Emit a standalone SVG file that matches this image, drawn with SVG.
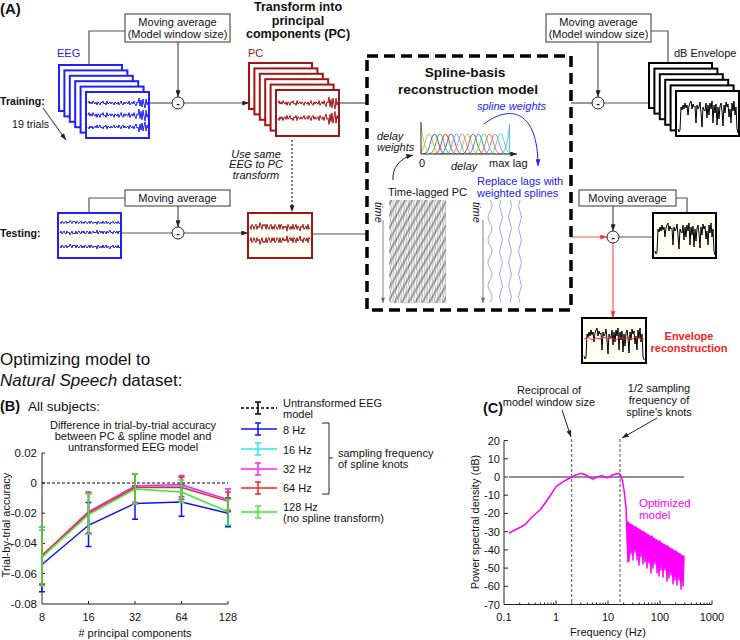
<svg xmlns="http://www.w3.org/2000/svg" xmlns:xlink="http://www.w3.org/1999/xlink" width="740" height="640" viewBox="0 0 740 640">
<style>
.t{font-family:"Liberation Sans",Arial,sans-serif;font-size:11px;fill:#111}
.b{font-weight:bold}
.i{font-style:italic}
.c{text-anchor:middle}
.e{text-anchor:end}
.conn{fill:none;stroke:#555;stroke-width:1.2}
.mab{fill:#fff;stroke:#555;stroke-width:1.2}
.fe{fill:#fff;stroke:#1f1fff;stroke-width:2}
.fp{fill:#fff;stroke:#a31515;stroke-width:2}
.fk{fill:#fff;stroke:#000;stroke-width:2}
.cr{fill:#fffff4}
.mc{fill:#fff;stroke:#222;stroke-width:1}
.ax{fill:none;stroke:#222;stroke-width:1}
.nz{fill:none;vector-effect:non-scaling-stroke}
</style>
<defs>
<marker id="ak" viewBox="0 0 8 6" refX="8" refY="3" markerWidth="7" markerHeight="5" markerUnits="userSpaceOnUse" orient="auto"><path d="M0,0 L8,3 L0,6 z" fill="#222"/></marker>
<marker id="ar" viewBox="0 0 8 6" refX="8" refY="3" markerWidth="7" markerHeight="5" markerUnits="userSpaceOnUse" orient="auto"><path d="M0,0 L8,3 L0,6 z" fill="#ff3030"/></marker>
<marker id="ab" viewBox="0 0 8 6" refX="8" refY="3" markerWidth="7" markerHeight="5" markerUnits="userSpaceOnUse" orient="auto"><path d="M0,0 L8,3 L0,6 z" fill="#2020ff"/></marker>
<marker id="ag" viewBox="0 0 8 6" refX="8" refY="3" markerWidth="6" markerHeight="4" markerUnits="userSpaceOnUse" orient="auto"><path d="M0,0 L8,3 L0,6 z" fill="#666"/></marker>
<path id="n1" class="nz" d="M0,0 l1,-2 1,3 1,-2 1,2 1,-3 1,2 1,1 1,-2 1,3 1,-3 1,1 1,2 1,-3 1,1 1,-2 1,3 1,-1 1,2 1,-4 1,3 1,-1 1,-1 1,2 1,-2 1,1 1,2 1,-3 1,1 1,1 1,-2 1,3 1,-2 1,-2 1,3 1,1 1,-3 1,2 1,-2 1,1 1,1 1,-3 1,4 1,-2 1,-1 1,2 1,-3 1,3 1,2 1,-4 1,1 1,-5 1,8 1,-6 1,7 1,-8 1,5 1,4 1,-9 1,6 1,-3"/>
<path id="n2" class="nz" d="M0,0 l1,2 1,-3 1,1 1,2 1,-2 1,-1 1,3 1,-2 1,1 1,-3 1,2 1,2 1,-3 1,1 1,-1 1,3 1,-3 1,2 1,1 1,-2 1,-1 1,3 1,-2 1,2 1,-3 1,1 1,2 1,-1 1,-2 1,3 1,-3 1,1 1,2 1,-2 1,1 1,-1 1,3 1,-4 1,2 1,1 1,-2 1,2 1,-3 1,3 1,-1 1,-2 1,3 1,-2 1,1 1,2 1,-3 1,1 1,-2 1,3 1,-1 1,-1 1,2 1,-3 1,3 1,-1"/>
<polyline id="env" class="nz" points="0,36 1,39 2,37 3,14 4,17 5,12 6,16 7,10 8,15 9,12 10,22 11,13 12,10 13,8 14,16 15,11 16,14 17,13 18,30 19,12 20,16 21,14 22,9 23,20 24,34 25,14 26,17 27,18 28,10 29,25 30,12 31,22 32,10 33,16 34,8 35,30 36,12 37,20 38,11 39,32 40,14 41,26 42,13 43,10 44,18 45,33 46,12 47,20 48,9 49,14 50,11 51,24 52,16 53,30 54,10 55,18 56,8 57,22 58,14 59,36 60,40"/>
<pattern id="pv" patternUnits="userSpaceOnUse" width="2.6" height="8"><path d="M1.3,0 L0.4,4 L1.3,8" fill="none" stroke="#666" stroke-width="0.6"/></pattern>
<pattern id="pd" patternUnits="userSpaceOnUse" width="6" height="20" patternTransform="rotate(30)"><path d="M1,0 V20" stroke="#333" stroke-width="0.8"/></pattern>
<clipPath id="spc"><rect x="421" y="118" width="91" height="36"/></clipPath>
</defs>
<rect width="740" height="640" fill="#fff"/>

<g id="labels-A">
<text class="t b" x="0" y="14" style="font-size:15px">(A)</text>
<text class="t b c" x="298" y="11" style="font-size:12.6px">Transform into</text>
<text class="t b c" x="298" y="24.5" style="font-size:12.6px">principal</text>
<text class="t b c" x="298" y="38" style="font-size:12.6px">components (PC)</text>
<text class="t b" x="0" y="105" style="font-size:10.6px">Training:</text>
<text class="t" x="12" y="128" style="font-size:10.6px">19 trials</text>
<text class="t b" x="0" y="237" style="font-size:10.6px">Testing:</text>
<text class="t i c" x="256" y="157.5">Use same</text>
<text class="t i c" x="256" y="168">EEG to PC</text>
<text class="t i c" x="256" y="178.5">transform</text>
</g>

<g id="connectors">
<path class="conn" d="M43,108 L66,140" marker-end="url(#ak)"/>
<path class="conn" d="M125,31 H89 V65"/>
<path class="conn" d="M178,42 V97" marker-end="url(#ak)"/>
<path class="conn" d="M149,103 H172"/>
<path class="conn" d="M184,103 H249" marker-end="url(#ak)"/>
<path class="conn" d="M339,103 H367"/>
<path class="conn" d="M571,103 H592"/>
<path class="conn" d="M651,31 H668 V63"/>
<path class="conn" d="M598,42 V97" marker-end="url(#ak)"/>
<path class="conn" d="M604,103 H649"/>
<path fill="none" stroke="#222" stroke-width="1.2" stroke-dasharray="2 2" d="M292,140 V212" marker-end="url(#ak)"/>
<path class="conn" d="M125,198 H89 V213"/>
<path class="conn" d="M178,206 V227" marker-end="url(#ak)"/>
<path class="conn" d="M121,233 H172"/>
<path class="conn" d="M184,233 H248" marker-end="url(#ak)"/>
<path class="conn" d="M312,234 H367"/>
<path class="conn" d="M676,198 H687 V213"/>
<path class="conn" d="M613,206 V231" marker-end="url(#ak)"/>
<path class="conn" d="M619,237 H653"/>
<path fill="none" stroke="#ff5555" stroke-width="1.2" d="M571,237 H607" marker-end="url(#ar)"/>
<path fill="none" stroke="#ff5555" stroke-width="1.2" d="M613,243 V318" marker-end="url(#ar)"/>
</g>

<g id="ma-train-eeg">
<rect class="mab" x="125" y="14" width="105" height="28"/>
<text class="t c" x="177.5" y="26">Moving average</text>
<text class="t c" x="177.5" y="38">(Model window size)</text>
</g>
<g id="ma-train-env">
<rect class="mab" x="546" y="14" width="105" height="28"/>
<text class="t c" x="598.5" y="26">Moving average</text>
<text class="t c" x="598.5" y="38">(Model window size)</text>
</g>
<g id="ma-test-eeg">
<rect class="mab" x="125" y="190" width="105" height="16"/>
<text class="t c" x="177.5" y="202">Moving average</text>
</g>
<g id="ma-test-env">
<rect class="mab" x="579" y="190" width="97" height="16"/>
<text class="t c" x="627.5" y="202">Moving average</text>
</g>

<g id="minus-nodes">
<circle class="mc" cx="178" cy="103" r="6"/><text class="t b c" x="178" y="106.5">-</text>
<circle class="mc" cx="598" cy="103" r="6"/><text class="t b c" x="598" y="106.5">-</text>
<circle class="mc" cx="178" cy="233" r="6"/><text class="t b c" x="178" y="236.5">-</text>
<circle class="mc" cx="613" cy="237" r="6"/><text class="t b c" x="613" y="240.5">-</text>
</g>

<g id="eeg-stack">
<text class="t" x="57" y="57" style="fill:#2020ff">EEG</text>
<rect class="fe" x="59" y="65" width="63" height="46"/>
<rect class="fe" x="64.4" y="70.4" width="63" height="46"/>
<rect class="fe" x="69.8" y="75.8" width="63" height="46"/>
<rect class="fe" x="75.2" y="81.2" width="63" height="46"/>
<rect class="fe" x="80.6" y="86.6" width="63" height="46"/>
<rect class="fe" x="86" y="92" width="63" height="46"/>
<g stroke="#1f1fff" stroke-width="1">
<use xlink:href="#n1" transform="translate(88,103)"/>
<use xlink:href="#n1" transform="translate(88,115) scale(1,1.2)"/>
<use xlink:href="#n1" transform="translate(88,127) scale(1,-1)"/>
</g>
</g>

<g id="pc-stack">
<text class="t" x="248" y="57" style="fill:#a31515">PC</text>
<rect class="fp" x="249" y="63" width="63" height="46"/>
<rect class="fp" x="254.4" y="68.4" width="63" height="46"/>
<rect class="fp" x="259.8" y="73.8" width="63" height="46"/>
<rect class="fp" x="265.2" y="79.2" width="63" height="46"/>
<rect class="fp" x="270.6" y="84.6" width="63" height="46"/>
<rect class="fp" x="276" y="90" width="63" height="46"/>
<g stroke="#a31515" stroke-width="1">
<use xlink:href="#n1" transform="translate(278,103) scale(1,1.2)"/>
<use xlink:href="#n1" transform="translate(278,118) scale(1,-1.3)"/>
</g>
</g>

<g id="env-stack">
<text class="t" x="674" y="57">dB Envelope</text>
<rect class="fk" x="649" y="63" width="63" height="45"/>
<rect class="fk" x="654.4" y="68.6" width="63" height="45"/>
<rect class="fk" x="659.8" y="74.2" width="63" height="45"/>
<rect class="fk" x="665.2" y="79.8" width="63" height="45"/>
<rect class="fk" x="670.6" y="85.4" width="63" height="45"/>
<rect class="fk" x="676" y="91" width="63" height="45"/>
<use xlink:href="#env" transform="translate(678,93)" stroke="#000" stroke-width="1"/>
</g>

<g id="test-eeg">
<rect class="fe cr" x="58" y="213" width="63" height="45"/>
<g stroke="#1f1fff" stroke-width="1">
<use xlink:href="#n2" transform="translate(60,222) scale(1,0.8)"/>
<use xlink:href="#n2" transform="translate(60,233) scale(1,-1)"/>
<use xlink:href="#n2" transform="translate(60,246)"/>
</g>
</g>

<g id="test-pc">
<rect class="fp cr" x="248" y="213" width="64" height="45"/>
<g stroke="#a31515" stroke-width="1">
<use xlink:href="#n2" transform="translate(250,226) scale(1,1.7)"/>
<use xlink:href="#n2" transform="translate(250,241) scale(1,-1.7)"/>
</g>
</g>

<g id="test-env">
<rect class="fk cr" x="653" y="213" width="63" height="45"/>
<use xlink:href="#env" transform="translate(655,215)" stroke="#000" stroke-width="1"/>
</g>

<g id="reconstruction">
<rect class="fk cr" x="582" y="318" width="64" height="45"/>
<use xlink:href="#env" transform="translate(584,320)" stroke="#000" stroke-width="1"/>
<path d="M584,339 l4,-2 4,3 4,-2 4,1 4,-2 4,2 4,-1 4,2 4,-3 4,2 4,-1 4,1 4,-2 4,2 4,0" fill="none" stroke="#ff2020" stroke-width="1"/>
<text class="t b c" x="689" y="340" style="fill:#ff2020">Envelope</text>
<text class="t b c" x="689" y="352" style="fill:#ff2020">reconstruction</text>
</g>

<g id="spline-model">
<rect x="367" y="56" width="204" height="254" fill="none" stroke="#000" stroke-width="3.5" stroke-dasharray="11 6"/>
<text class="t b c" x="465" y="77" style="font-size:13.7px">Spline-basis</text>
<text class="t b c" x="468" y="94" style="font-size:13.7px">reconstruction model</text>
<text class="t i" x="477" y="110" style="fill:#2020ff">spline weights</text>
<path d="M484,124 C510,104 538,110 538,166" fill="none" stroke="#2020ff" stroke-width="1" marker-end="url(#ab)"/>
<text class="t i" x="377" y="140">delay</text>
<text class="t i" x="377" y="151">weights</text>
<path d="M393,180 C392,168 400,158 413,155" fill="none" stroke="#222" stroke-width="1" marker-end="url(#ak)"/>
<g clip-path="url(#spc)" fill="none" stroke-width="0.9">
<path stroke="#f0a030" d="M418,154 c7,0 7,-20 11,-20 s4,20 11,20"/>
<path stroke="#3050f0" d="M423.5,154 c7,0 7,-20 11,-20 s4,20 11,20"/>
<path stroke="#30b030" d="M429,154 c7,0 7,-20 11,-20 s4,20 11,20"/>
<path stroke="#e03030" d="M434.5,154 c7,0 7,-20 11,-20 s4,20 11,20"/>
<path stroke="#9040c0" d="M440,154 c7,0 7,-20 11,-20 s4,20 11,20"/>
<path stroke="#30c0d0" d="M445.5,154 c7,0 7,-20 11,-20 s4,20 11,20"/>
<path stroke="#ff70b0" d="M451,154 c7,0 7,-20 11,-20 s4,20 11,20"/>
<path stroke="#c0c030" d="M456.5,154 c7,0 7,-20 11,-20 s4,20 11,20"/>
<path stroke="#8b5a2b" d="M462,154 c7,0 7,-20 11,-20 s4,20 11,20"/>
<path stroke="#2080ff" d="M467.5,154 c7,0 7,-20 11,-20 s4,20 11,20"/>
<path stroke="#60d060" d="M473,154 c7,0 7,-20 11,-20 s4,20 11,20"/>
<path stroke="#ff6040" d="M478.5,154 c7,0 7,-20 11,-20 s4,20 11,20"/>
<path stroke="#b070e0" d="M484,154 c7,0 7,-20 11,-20 s4,20 11,20"/>
<path stroke="#40d0c0" d="M489.5,154 c7,0 7,-20 11,-20 s4,20 11,20"/>
<path stroke="#b0d040" d="M421,124 C423,140 425,152 431,154"/>
<path stroke="#40c0e0" d="M501,154 C506,152 508,140 509.5,124 V154"/>
</g>
<path class="ax" d="M421,122 V154 H517" marker-end="url(#ak)"/>
<text class="t" x="419" y="167">0</text>
<text class="t i" x="451" y="170">delay</text>
<text class="t" x="489" y="167">max lag</text>
<text class="t" x="477" y="185" style="fill:#2020ff">Replace lags with</text>
<text class="t" x="477" y="197" style="fill:#2020ff">weighted splines</text>
<text class="t" x="388" y="196">Time-lagged PC</text>
<text class="t i" transform="translate(375,202) rotate(90)">time</text>
<path d="M383,220 V303" fill="none" stroke="#666" stroke-width="0.8" marker-end="url(#ag)"/>
<rect x="389" y="200" width="57" height="103" fill="url(#pv)"/>
<rect x="389" y="200" width="57" height="103" fill="url(#pd)"/>
<text class="t i" transform="translate(473,202) rotate(90)">time</text>
<path d="M483,220 V303" fill="none" stroke="#666" stroke-width="0.8" marker-end="url(#ag)"/>
<g fill="none" stroke="#8a8aff" stroke-width="0.8">
<path d="M490,200 q4,5.7 0,11.4 t0,11.4 t0,11.4 t0,11.4 t0,11.4 t0,11.4 t0,11.4 t0,11.4 t0,11.4"/>
<path d="M501,200 q-3,5.7 0,11.4 t0,11.4 t0,11.4 t0,11.4 t0,11.4 t0,11.4 t0,11.4 t0,11.4 t0,11.4"/>
<path d="M510,200 q3,5.7 0,11.4 t0,11.4 t0,11.4 t0,11.4 t0,11.4 t0,11.4 t0,11.4 t0,11.4 t0,11.4"/>
<path d="M520,200 q-3,5.7 0,11.4 t0,11.4 t0,11.4 t0,11.4 t0,11.4 t0,11.4 t0,11.4 t0,11.4 t0,11.4"/>
</g>
</g>

<g id="panel-B">
<text class="t" x="0" y="365" style="font-size:17px">Optimizing model to</text>
<text class="t" x="0" y="386" style="font-size:17px"><tspan font-style="italic">Natural Speech</tspan> dataset:</text>
<text class="t b" x="0" y="411" style="font-size:14.5px">(B)</text>
<text class="t" x="28" y="411" style="font-size:13.5px">All subjects:</text>
<text class="t c" x="133" y="429">Difference in trial-by-trial accuracy</text>
<text class="t c" x="133" y="440">between PC &amp; spline model and</text>
<text class="t c" x="133" y="451">untransformed EEG model</text>
<path class="ax" d="M42,453 V604 H228 M42,453 h3 M42,483 h3 M42,513.2 h3 M42,543.4 h3 M42,573.6 h3 M88.5,604 v-3 M135,604 v-3 M181.5,604 v-3 M228,604 v-3"/>
<g class="t e" style="font-size:11.5px">
<text x="37" y="457">0.02</text>
<text x="37" y="487">0</text>
<text x="37" y="517">-0.02</text>
<text x="37" y="547">-0.04</text>
<text x="37" y="578">-0.06</text>
<text x="37" y="608">-0.08</text>
</g>
<g class="t c">
<text x="42" y="621">8</text>
<text x="88.5" y="621">16</text>
<text x="135" y="621">32</text>
<text x="181.5" y="621">64</text>
<text x="228" y="621">128</text>
<text x="135" y="637"># principal components</text>
<text transform="translate(10,525) rotate(-90)">Trial-by-trial accuracy</text>
</g>
<path d="M42,483 H228" fill="none" stroke="#000" stroke-width="1" stroke-dasharray="3 2"/>
<g fill="none" stroke-width="1.5">
<g stroke="#1010ff">
<polyline points="42,564.5 88.5,525.3 135,503.4 181.5,501.9 228,513.2"/>
<path d="M42,529.8V591.7 M39,529.8h6 M39,591.7h6 M88.5,502.6V546.4 M85.5,502.6h6 M85.5,546.4h6 M135,486V519.2 M132,486h6 M132,519.2h6 M181.5,484.5V516.2 M178.5,484.5h6 M178.5,516.2h6 M228,498.1V526.8 M225,498.1h6 M225,526.8h6"/>
</g>
<g stroke="#22eeee">
<polyline points="42,557 88.5,513.2 135,487.5 181.5,486 228,499.6"/>
<path d="M42,529.8V584.2 M39,529.8h6 M39,584.2h6 M88.5,492.1V534.3 M85.5,492.1h6 M85.5,534.3h6 M135,473.9V502.6 M132,473.9h6 M132,502.6h6 M181.5,477V498.1 M178.5,477h6 M178.5,498.1h6 M228,489V510.2 M225,489h6 M225,510.2h6"/>
</g>
<g stroke="#ff22ff">
<polyline points="42,555.5 88.5,511.7 135,486 181.5,484.5 228,499.6"/>
<path d="M42,526.8V584.2 M39,526.8h6 M39,584.2h6 M88.5,492.1V532.8 M85.5,492.1h6 M85.5,532.8h6 M135,473.9V502.6 M132,473.9h6 M132,502.6h6 M181.5,475.5V496.6 M178.5,475.5h6 M178.5,496.6h6 M228,489V510.2 M225,489h6 M225,510.2h6"/>
</g>
<g stroke="#ff2222">
<polyline points="42,555.5 88.5,513.2 135,487.5 181.5,487.5 228,501.1"/>
<path d="M42,526.8V584.2 M39,526.8h6 M39,584.2h6 M88.5,493.6V534.3 M85.5,493.6h6 M85.5,534.3h6 M135,473.9V504.1 M132,473.9h6 M132,504.1h6 M181.5,477V499.6 M178.5,477h6 M178.5,499.6h6 M228,492.1V511.7 M225,492.1h6 M225,511.7h6"/>
</g>
<g stroke="#33ee33">
<polyline points="42,557 88.5,514.7 135,489 181.5,492.1 228,511.7"/>
<path d="M42,526.8V585.7 M39,526.8h6 M39,585.7h6 M88.5,493.6V534.3 M85.5,493.6h6 M85.5,534.3h6 M135,473.9V504.1 M132,473.9h6 M132,504.1h6 M181.5,480V502.6 M178.5,480h6 M178.5,502.6h6 M228,499.6V525.3 M225,499.6h6 M225,525.3h6"/>
</g>
</g>
</g>

<g id="legend-B">
<path d="M241,408 H277" fill="none" stroke="#000" stroke-width="1.5" stroke-dasharray="3 2"/>
<path d="M258,402 V414 M255,402 h6 M255,414 h6" fill="none" stroke="#000" stroke-width="1.5"/>
<path d="M241,429 H277 M258,423 V435 M255,423 h6 M255,435 h6" fill="none" stroke="#1010ff" stroke-width="1.5"/>
<path d="M241,449 H277 M258,443 V455 M255,443 h6 M255,455 h6" fill="none" stroke="#22eeee" stroke-width="1.5"/>
<path d="M241,469 H277 M258,463 V475 M255,463 h6 M255,475 h6" fill="none" stroke="#ff22ff" stroke-width="1.5"/>
<path d="M241,488 H277 M258,482 V494 M255,482 h6 M255,494 h6" fill="none" stroke="#ff2222" stroke-width="1.5"/>
<path d="M241,512 H277 M258,506 V518 M255,506 h6 M255,518 h6" fill="none" stroke="#33ee33" stroke-width="1.5"/>
<g class="t">
<text x="283" y="407">Untransformed EEG</text>
<text x="283" y="418">model</text>
<text x="283" y="434">8 Hz</text>
<text x="283" y="454">16 Hz</text>
<text x="283" y="473">32 Hz</text>
<text x="283" y="492">64 Hz</text>
<text x="283" y="511">128 Hz</text>
<text x="283" y="522">(no spline transform)</text>
<text x="338" y="457">sampling frequency</text>
<text x="338" y="468">of spline knots</text>
</g>
<path d="M322,423 H329 V494 H322 M329,458 H333" fill="none" stroke="#222" stroke-width="1"/>
</g>

<g id="panel-C">
<text class="t b" x="483" y="413" style="font-size:14.5px">(C)</text>
<text class="t c" x="549" y="394">Reciprocal of</text>
<text class="t c" x="549" y="406">model window size</text>
<text class="t c" x="659" y="392">1/2 sampling</text>
<text class="t c" x="659" y="404">frequency of</text>
<text class="t c" x="659" y="416">spline's knots</text>
<path d="M562,410 L571,437" fill="none" stroke="#222" stroke-width="1" marker-end="url(#ak)"/>
<path d="M657,418 L622,438" fill="none" stroke="#222" stroke-width="1" marker-end="url(#ak)"/>
<path class="ax" d="M504,440.6 V604.5 H712"/>
<path class="ax" d="M504,440.6h4 M504,458.8h4 M504,477h4 M504,495.2h4 M504,513.4h4 M504,531.7h4 M504,549.9h4 M504,568.1h4 M504,586.3h4 M556,604.5v-4 M608,604.5v-4 M660,604.5v-4 M712,604.5v-4 M519.7,604.5v-2 M528.8,604.5v-2 M535.3,604.5v-2 M540.3,604.5v-2 M544.5,604.5v-2 M548,604.5v-2 M551,604.5v-2 M553.6,604.5v-2 M571.7,604.5v-2 M580.8,604.5v-2 M587.3,604.5v-2 M592.4,604.5v-2 M596.5,604.5v-2 M600,604.5v-2 M603,604.5v-2 M605.6,604.5v-2 M623.7,604.5v-2 M632.8,604.5v-2 M639.3,604.5v-2 M644.4,604.5v-2 M648.5,604.5v-2 M652,604.5v-2 M655,604.5v-2 M657.6,604.5v-2 M675.7,604.5v-2 M684.8,604.5v-2 M691.3,604.5v-2 M696.4,604.5v-2 M700.5,604.5v-2 M704,604.5v-2 M707,604.5v-2 M709.6,604.5v-2"/>
<g class="t e">
<text x="500" y="444.6">20</text>
<text x="500" y="462.8">10</text>
<text x="500" y="481">0</text>
<text x="500" y="499.2">-10</text>
<text x="500" y="517.4">-20</text>
<text x="500" y="535.7">-30</text>
<text x="500" y="553.9">-40</text>
<text x="500" y="572.1">-50</text>
<text x="500" y="590.3">-60</text>
<text x="500" y="608.5">-70</text>
</g>
<g class="t c">
<text x="504" y="621">0.1</text>
<text x="556" y="621">1</text>
<text x="608" y="621">10</text>
<text x="660" y="621">100</text>
<text x="712" y="621">1000</text>
<text x="608" y="636">Frequency (Hz)</text>
<text transform="translate(479,522) rotate(-90)">Power spectral density (dB)</text>
</g>
<path d="M571.7,439 V604 M620,439 V604" fill="none" stroke="#222" stroke-width="0.8" stroke-dasharray="3 2"/>
<path d="M509,477 H684" fill="none" stroke="#222" stroke-width="1"/>
<path d="M509,533 L517,529 524.7,524.9 532,517 540.3,509.8 548,499 556,486.7 565,480.6 571.7,477 576,475 580.8,473.4 585,474.5 589,477 593,479.2 597,477 602,475.7 605,477 607,477.9 610,476.5 612,475.2 616,474 619,473.4 621,476 622.5,481 624,490 626,507 627,537 628,562 628,522 629,561 630,525 631,554 632,525 633,560 634,529 635,552 636,527 637,560 638,530 639,565 640,530 641,557 642,533 643,564 644,532 645,562 646,535 647,568 648,535 649,563 650,538 651,573 652,536 653,568 654,540 655,564 656,540 657,573 658,543 659,576 660,541 661,570 662,544 663,577 664,545 665,570 666,548 667,581 668,546 669,578 670,549 671,575 672,549 673,584 674,553 675,580 676,551 677,585 678,554 679,580 680,554 681,589 682,557 683,586 684,556" fill="none" stroke="#ff00ff" stroke-width="1.5" stroke-linejoin="round"/>
<path d="M628,522 L684,556 L684,566 L628,534 z" fill="#ff00ff"/>
<text class="t" x="639" y="507" style="fill:#ff00ff;font-size:11.5px">Optimized</text>
<text class="t" x="639" y="519" style="fill:#ff00ff;font-size:11.5px">model</text>
</g>
</svg>
